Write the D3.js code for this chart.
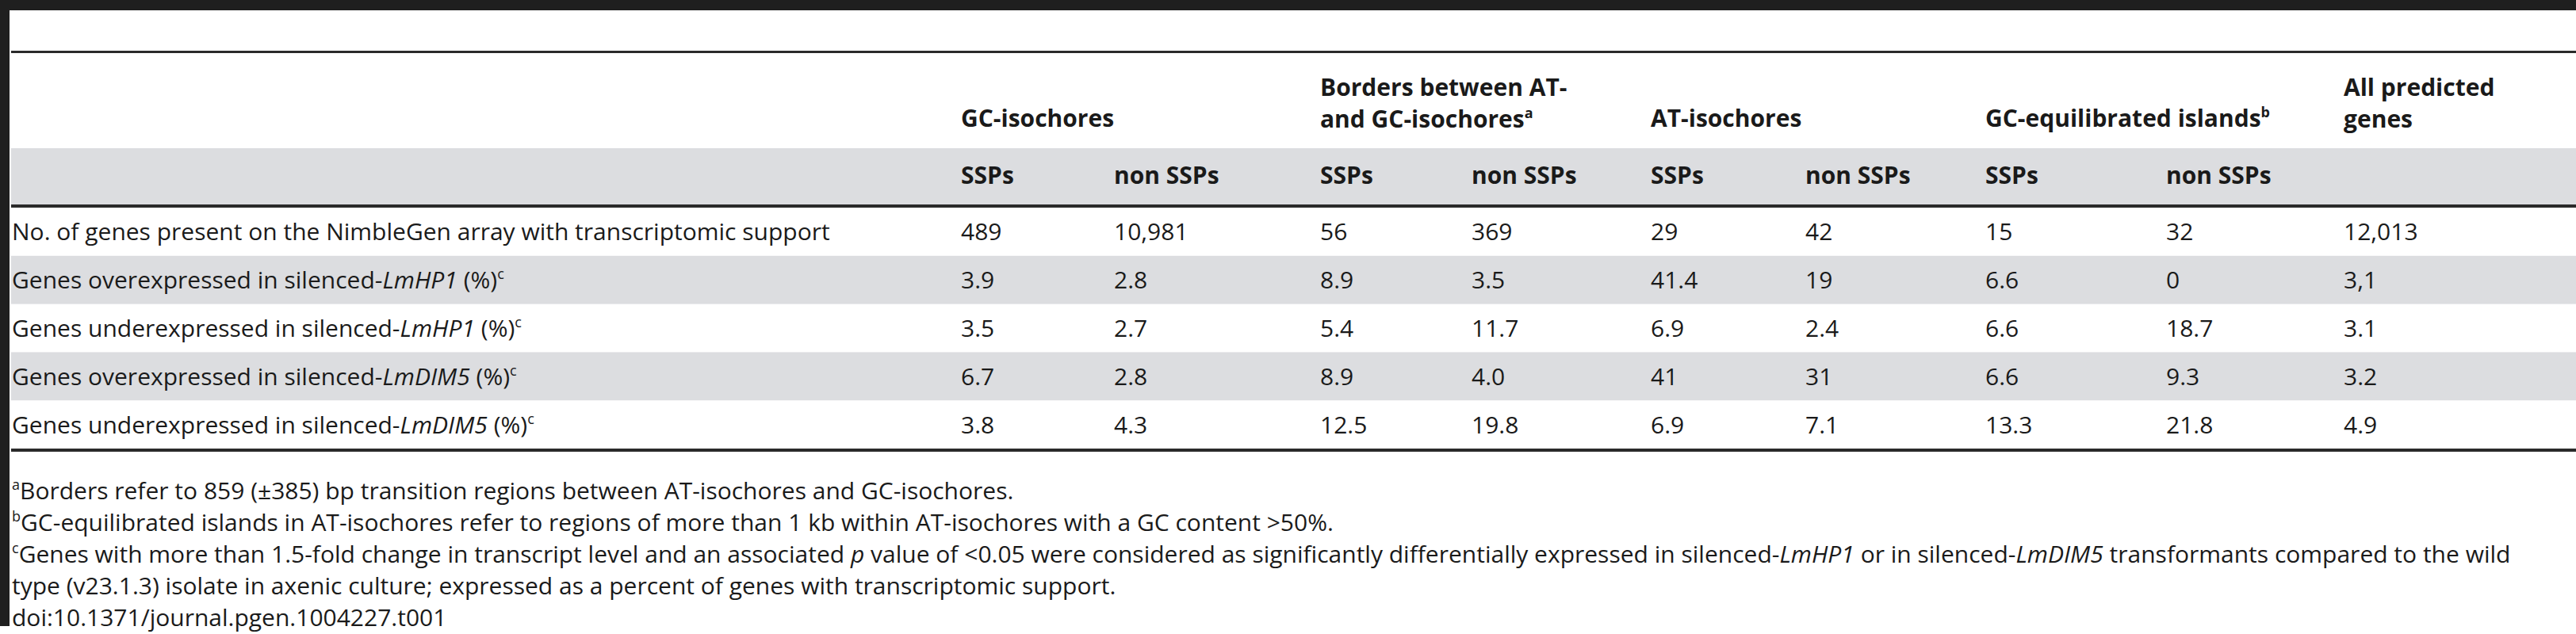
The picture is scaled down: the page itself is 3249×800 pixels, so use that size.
<!DOCTYPE html>
<html>
<head>
<meta charset="utf-8">
<script src="https://cdn.jsdelivr.net/npm/d3@7"></script>
<style>
  body { margin: 0; background: #fff; }
  svg text { font-family: "Open Sans", "Noto Sans", sans-serif; fill: #1a1a1a; }
</style>
</head>
<body>
<svg id="chart" width="3249" height="800"></svg>
<script>
// table content; *x* = italic, ^x^ = superscript, | = line break
var groups = ["GC-isochores", "Borders between AT-|and GC-isochores^a^", "AT-isochores",
              "GC-equilibrated islands^b^", "All predicted|genes"];
var subHeads = ["SSPs", "non SSPs", "SSPs", "non SSPs", "SSPs", "non SSPs", "SSPs", "non SSPs", ""];
var rowLabels = [
  "No. of genes present on the NimbleGen array with transcriptomic support",
  "Genes overexpressed in silenced-*LmHP1* (%)^c^",
  "Genes underexpressed in silenced-*LmHP1* (%)^c^",
  "Genes overexpressed in silenced-*LmDIM5* (%)^c^",
  "Genes underexpressed in silenced-*LmDIM5* (%)^c^"
];
var values = [
  ["489", "10,981", "56", "369", "29", "42", "15", "32", "12,013"],
  ["3.9", "2.8", "8.9", "3.5", "41.4", "19", "6.6", "0", "3,1"],
  ["3.5", "2.7", "5.4", "11.7", "6.9", "2.4", "6.6", "18.7", "3.1"],
  ["6.7", "2.8", "8.9", "4.0", "41", "31", "6.6", "9.3", "3.2"],
  ["3.8", "4.3", "12.5", "19.8", "6.9", "7.1", "13.3", "21.8", "4.9"]
];
var footnotes = [
  "^a^Borders refer to 859 (\u00B1385) bp transition regions between AT-isochores and GC-isochores.",
  "^b^GC-equilibrated islands in AT-isochores refer to regions of more than 1 kb within AT-isochores with a GC content >50%.",
  "^c^Genes with more than 1.5-fold change in transcript level and an associated *p* value of <0.05 were considered as significantly differentially expressed in silenced-*LmHP1* or in silenced-*LmDIM5* transformants compared to the wild",
  "type (v23.1.3) isolate in axenic culture; expressed as a percent of genes with transcriptomic support.",
  "doi:10.1371/journal.pgen.1004227.t001"
];

var W = 3249, H = 800;
var svg = d3.select("#chart");
var fs = 30, ffs = 30;

// column positions
var colKeys = d3.range(9);
var x = d3.scaleOrdinal().domain(colKeys)
  .range([1212, 1405, 1665, 1856, 2082, 2277, 2504, 2732, 2956]);
var groupCols = [0, 2, 4, 6, 8];

var y = d3.scaleBand().domain(d3.range(rowLabels.length)).range([262, 566]);

// write marked-up text into a text element
function rich(sel, str, size) {
  var parts = str.split(/(\*[^*]+\*|\^[^^]+\^)/).filter(function (d) { return d.length; });
  var prevSup = false;
  parts.forEach(function (p) {
    var t = sel.append("tspan");
    if (p[0] == "*") {
      t.text(p.slice(1, -1)).style("font-style", "italic");
      if (prevSup) t.attr("dy", size * 0.4);
      prevSup = false;
    } else if (p[0] == "^") {
      t.text(p.slice(1, -1)).attr("font-size", size * 0.6).attr("dy", -size * 0.4);
      prevSup = true;
    } else {
      t.text(p);
      if (prevSup) t.attr("dy", size * 0.4);
      prevSup = false;
    }
  });
}

// frame
svg.append("rect").attr("x", 0).attr("y", 0).attr("width", W).attr("height", 13).attr("fill", "#1f1f1f");
svg.append("rect").attr("x", 0).attr("y", 0).attr("width", 12).attr("height", 790).attr("fill", "#1f1f1f");

// grey bands
svg.append("rect").attr("x", 14).attr("y", 187).attr("width", W - 14).attr("height", 71).attr("fill", "#dcdde0");
svg.selectAll("rect.band").data([1, 3]).enter().append("rect")
  .attr("class", "band")
  .attr("x", 14).attr("y", function (d) { return y(d); })
  .attr("width", W - 14).attr("height", y.bandwidth())
  .attr("fill", "#dcdde0");

// rules
[[64, 3], [258, 4], [566, 4]].forEach(function (r) {
  svg.append("rect").attr("x", 14).attr("y", r[0]).attr("width", W - 14).attr("height", r[1]).attr("fill", "#2a2a2a");
});

// group headers
groups.forEach(function (g, i) {
  var lines = g.split("|");
  var t = svg.append("text").attr("font-size", fs).attr("font-weight", "bold");
  lines.forEach(function (l, j) {
    var base = lines.length == 1 ? 160 : 121 + j * 40;
    var tt = t.append("tspan").attr("x", x(groupCols[i])).attr("y", base);
    rich(tt, l, fs);
  });
});

// sub headers
svg.selectAll("text.sub").data(subHeads).enter().append("text")
  .attr("class", "sub")
  .attr("x", function (d, i) { return x(i); })
  .attr("y", 232)
  .attr("font-size", fs).attr("font-weight", "bold")
  .text(function (d) { return d; });

// rows
rowLabels.forEach(function (l, i) {
  var cy = y(i) + y.bandwidth() / 2 + 11;
  rich(svg.append("text").attr("x", 15).attr("y", cy).attr("font-size", fs), l, fs);
  svg.selectAll("text.v" + i).data(values[i]).enter().append("text")
    .attr("class", "v" + i)
    .attr("x", function (d, j) { return x(j); })
    .attr("y", cy)
    .attr("font-size", fs)
    .text(function (d) { return d; });
});

// footnotes
var fy = d3.scalePoint().domain(d3.range(footnotes.length)).range([630, 790]);
footnotes.forEach(function (f, i) {
  rich(svg.append("text").attr("x", 15).attr("y", fy(i)).attr("font-size", ffs), f, ffs);
});
</script>
</body>
</html>
